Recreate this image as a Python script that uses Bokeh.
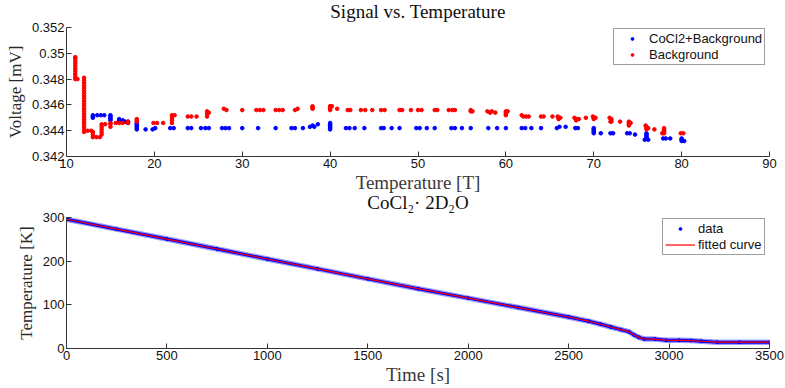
from bokeh.plotting import figure
from bokeh.layouts import column
from bokeh.models import Legend, LegendItem, FixedTicker, Range1d
from bokeh.embed import file_html
from bokeh.resources import INLINE

# ---------------- top panel data: Signal vs. Temperature ----------------
co_pts = [
    (13.0, 0.3452), (13.0, 0.3451), (13.0, 0.3450), (13.5, 0.3452), (13.9, 0.3452), (14.3, 0.3452),
    (15.0, 0.3452), (15.0, 0.3451), (15.0, 0.3450), (15.0, 0.3449), (15.0, 0.3448),
    (16.0, 0.3449), (16.0, 0.3448), (16.0, 0.3447), (16.4, 0.3448),
    (17.0, 0.3447), (17.0, 0.3446), (16.7, 0.3447),
    (18.0, 0.3446), (18.0, 0.3445), (18.0, 0.3444), (18.0, 0.3443), (18.0, 0.3442), (18.0, 0.3441),
    (19.0, 0.3441), (19.8, 0.3441), (20.1, 0.3442),
    (21.8, 0.3442), (22.2, 0.3442), (23.8, 0.3442), (24.2, 0.3442), (25.3, 0.3442), (25.8, 0.3442),
    (26.2, 0.3442), (27.7, 0.3442), (28.1, 0.3442), (28.5, 0.3442), (30.0, 0.3442), (31.8, 0.3442),
    (33.8, 0.3442), (35.6, 0.3442), (36.0, 0.3442), (36.9, 0.3442), (37.7, 0.3443), (38.0, 0.3444),
    (38.2, 0.3443), (38.6, 0.3445),
    (40.0, 0.3441), (40.0, 0.3442), (40.0, 0.3443), (40.0, 0.3444), (40.0, 0.3445), (40.0, 0.3446),
    (41.8, 0.3442), (42.2, 0.3442), (42.8, 0.3442), (43.9, 0.3442), (45.8, 0.3442), (46.1, 0.3442),
    (47.0, 0.3442), (47.9, 0.3442), (49.8, 0.3442), (50.2, 0.3442), (51.0, 0.3442), (51.9, 0.3442),
    (53.8, 0.3442), (54.2, 0.3442), (55.0, 0.3442), (56.0, 0.3442), (58.0, 0.3442), (59.0, 0.3442),
    (60.0, 0.3442), (61.8, 0.3442), (62.2, 0.3442), (62.9, 0.3442), (64.0, 0.3442), (65.8, 0.3442),
    (66.1, 0.3443), (66.8, 0.3443), (67.9, 0.3442), (68.2, 0.3442),
    (70.0, 0.3442), (70.0, 0.3441), (70.0, 0.3440), (70.0, 0.3439), (70.0, 0.3438), (70.8, 0.3438),
    (71.9, 0.3438), (72.2, 0.3438), (73.8, 0.3438), (74.1, 0.3438), (74.7, 0.3437),
    (76.0, 0.3438), (76.0, 0.3437), (76.0, 0.3436), (76.0, 0.3435), (76.0, 0.3434), (75.8, 0.3433),
    (76.2, 0.3433), (77.9, 0.3434), (78.2, 0.3434), (78.7, 0.3434), (80.0, 0.3434), (80.0, 0.3433),
    (80.0, 0.3432), (80.3, 0.3432),
]

bg_pts = [
    (11.0, 0.3480), (11.0, 0.3482), (11.0, 0.3484), (11.0, 0.3486), (11.0, 0.3488), (11.0, 0.3490),
    (11.0, 0.3492), (11.0, 0.3494), (11.0, 0.3496), (11.0, 0.3497), (11.25, 0.3480),
    (12.0, 0.3481), (12.0, 0.3479), (12.0, 0.3477), (12.0, 0.3475), (12.0, 0.3473), (12.0, 0.3471),
    (12.0, 0.3469), (12.0, 0.3467), (12.0, 0.3465), (12.0, 0.3463), (12.0, 0.3461), (12.0, 0.3459),
    (12.0, 0.3457), (12.0, 0.3455), (12.0, 0.3453), (12.0, 0.3451), (12.0, 0.3449), (12.0, 0.3447),
    (12.0, 0.3445), (12.0, 0.3443), (12.0, 0.3441), (12.0, 0.3439),
    (12.4, 0.3440), (12.8, 0.3440), (13.0, 0.3439), (13.0, 0.3437), (13.0, 0.3435), (13.4, 0.3435),
    (13.8, 0.3435), (14.0, 0.3437), (14.0, 0.3439), (14.0, 0.3441), (14.0, 0.3443), (14.0, 0.3445),
    (14.4, 0.3445),
    (15.0, 0.3443), (15.0, 0.3445), (15.0, 0.3446), (15.6, 0.3446), (16.0, 0.3446), (16.4, 0.3446),
    (17.0, 0.3446), (17.0, 0.3447), (18.0, 0.3447), (18.0, 0.3448), (18.0, 0.3449),
    (19.9, 0.3446), (20.3, 0.3446), (21.0, 0.3446), (22.0, 0.3446), (22.0, 0.3448), (22.0, 0.3450),
    (22.0, 0.3452), (22.3, 0.3452),
    (23.8, 0.3451), (24.2, 0.3451), (24.8, 0.3451), (26.0, 0.3451), (26.0, 0.3453), (26.0, 0.3455),
    (26.2, 0.3454),
    (27.9, 0.3457), (28.2, 0.3456), (30.0, 0.3456), (31.6, 0.3456), (32.0, 0.3456), (32.4, 0.3456),
    (33.8, 0.3456), (34.2, 0.3456), (34.6, 0.3456), (36.0, 0.3456), (36.3, 0.3457),
    (38.0, 0.3457), (38.0, 0.3458), (38.0, 0.3459), (40.0, 0.3456), (40.0, 0.3457), (40.0, 0.3458),
    (40.0, 0.3459), (40.2, 0.3459), (40.8, 0.3457),
    (42.0, 0.3456), (42.3, 0.3456), (43.5, 0.3456), (44.0, 0.3456), (44.8, 0.3456), (45.8, 0.3456),
    (46.2, 0.3456), (47.9, 0.3456), (48.2, 0.3456), (49.2, 0.3456), (50.0, 0.3456), (50.4, 0.3456),
    (51.9, 0.3456), (52.2, 0.3456), (53.5, 0.3456), (53.9, 0.3456), (54.2, 0.3456), (56.0, 0.3455),
    (56.0, 0.3456), (56.2, 0.3455),
    (57.9, 0.3455), (58.2, 0.3454), (58.4, 0.3455), (58.8, 0.3454), (60.0, 0.3452), (60.0, 0.3453),
    (60.0, 0.3454), (60.0, 0.3455), (60.2, 0.3455),
    (61.8, 0.3452), (62.0, 0.3451), (62.3, 0.3451), (62.6, 0.3451), (64.0, 0.3451), (64.3, 0.3451),
    (65.3, 0.3451), (65.9, 0.3451), (66.0, 0.3450), (66.0, 0.3449), (66.2, 0.3450),
    (67.8, 0.3450), (68.0, 0.3449), (68.0, 0.3448), (68.3, 0.3449), (69.1, 0.3450), (69.9, 0.3451),
    (70.0, 0.3450), (70.0, 0.3449), (70.2, 0.3450),
    (71.8, 0.3450), (72.0, 0.3449), (72.0, 0.3448), (72.0, 0.3447), (71.9, 0.3447), (73.0, 0.3447),
    (74.0, 0.3447), (74.0, 0.3446), (74.0, 0.3445), (74.0, 0.3444), (74.2, 0.3446),
    (75.9, 0.3444), (76.0, 0.3443), (76.0, 0.3442), (76.0, 0.3441), (76.2, 0.3442), (76.9, 0.3441),
    (78.0, 0.3442), (78.0, 0.3441), (78.0, 0.3440), (78.0, 0.3439), (78.0, 0.3438), (77.8, 0.3438),
    (79.9, 0.3438), (80.2, 0.3438),
]

co_T = [p[0] for p in co_pts]
co_V = [p[1] for p in co_pts]
bg_T = [p[0] for p in bg_pts]
bg_V = [p[1] for p in bg_pts]

top_xticks = [10, 20, 30, 40, 50, 60, 70, 80, 90]
top_yticks = [0.342, 0.344, 0.346, 0.348, 0.35, 0.352]
top_ylabels = ["0.342", "0.344", "0.346", "0.348", "0.35", "0.352"]

# ---------------- bottom panel data: CoCl2 . 2D2O cooling ----------------
time_s = [0, 250, 500, 750, 1000, 1250, 1500, 1750, 2000, 2250, 2500, 2600, 2660, 2710,
          2760, 2800, 2826, 2850, 2875, 2930, 2985, 3050, 3108, 3160, 3240, 3350, 3500]
temp_K = [296, 273.3, 250.6, 227.8, 205, 182.3, 159.5, 137, 115.4, 93.8, 72.2, 62.5, 55.5, 49.3,
          43.3, 38.5, 31, 25.5, 22, 21.5, 19, 18.7, 18.2, 16.6, 14.5, 14.4, 14.4]
fit_K = [296, 273.3, 250.6, 227.8, 205, 182.3, 159.5, 137, 115.4, 93.8, 72.2, 62.5, 55.5, 49.3,
         43.3, 38.5, 31, 25.5, 22, 21.5, 19, 18.7, 18.2, 16.6, 14.5, 14.4, 14.4]

bot_xticks = [0, 500, 1000, 1500, 2000, 2500, 3000, 3500]
bot_yticks = [0, 100, 200, 300]

SERIF = "Liberation Serif"
SANS = "Liberation Sans"
AXIS_C = "#333333"


def style(p):
    p.outline_line_color = None
    p.xgrid.visible = False
    p.ygrid.visible = False
    p.background_fill_color = "white"
    for ax in (p.xaxis[0], p.yaxis[0]):
        ax.axis_line_color = AXIS_C
        ax.major_tick_line_color = AXIS_C
        ax.major_tick_in = 5
        ax.major_tick_out = 0
        ax.minor_tick_line_color = None
        ax.major_label_text_font = SANS
        ax.major_label_text_font_size = "13px"
        ax.major_label_text_color = "#111111"
        ax.axis_label_text_font = SERIF
        ax.axis_label_text_font_style = "normal"
        ax.axis_label_text_color = "#2a2a2a"
        ax.major_label_standoff = 2
    p.xaxis[0].axis_label_text_font_size = "19px"
    p.xaxis[0].axis_label_text_color = "#3a3a3a"
    p.yaxis[0].axis_label_text_font_size = "17px"
    p.xaxis[0].axis_label_standoff = 1
    p.yaxis[0].axis_label_standoff = 4
    p.title.text_font = SERIF
    p.title.text_font_style = "normal"
    p.title.text_font_size = "19px"
    p.title.align = "center"
    p.title.text_color = "#111111"


# ---------------- top figure ----------------
p1 = figure(width=785, height=204, x_range=Range1d(10, 90), y_range=Range1d(0.342, 0.352),
            output_backend="svg", toolbar_location=None, title="Signal vs. Temperature",
            min_border_left=66, min_border_right=16, min_border_top=35, min_border_bottom=40,
            margin=(-8, 0, 0, 0))
style(p1)
p1.border_fill_alpha = 0
p1.title.standoff = 12
p1.xaxis.axis_label = "Temperature [T]"
p1.yaxis.axis_label = "Voltage [mV]"
p1.xaxis.ticker = FixedTicker(ticks=top_xticks)
p1.yaxis.ticker = FixedTicker(ticks=top_yticks)
p1.yaxis.major_label_overrides = {v: s for v, s in zip(top_yticks, top_ylabels)}

r_co = p1.scatter(co_T, co_V, marker="circle", size=3.6, color="#0000ff")
r_bg = p1.scatter(bg_T, bg_V, marker="circle", size=3.6, color="#ff0000")

leg1 = Legend(items=[LegendItem(label="CoCl2+Background", renderers=[r_co]),
                     LegendItem(label="Background", renderers=[r_bg])],
              location=(547, 91))
p1.add_layout(leg1)

# ---------------- bottom figure (pulled up over the empty strip of the top one) ----------------
p2 = figure(width=785, height=204, x_range=Range1d(0, 3500), y_range=Range1d(0, 300),
            output_backend="svg", toolbar_location=None, title="CoCl₂· 2D₂O",
            min_border_left=66, min_border_right=16, min_border_top=33, min_border_bottom=40,
            margin=(-12, 0, 0, 0))
style(p2)
p2.border_fill_alpha = 0
p2.title.standoff = 10
p2.xaxis.axis_label = "Time [s]"
p2.yaxis.axis_label = "Temperature [K]"
p2.xaxis.ticker = FixedTicker(ticks=bot_xticks)
p2.yaxis.ticker = FixedTicker(ticks=bot_yticks)

p2.line(time_s, temp_K, line_width=5.5, color="#9c9cff", line_join="round", line_cap="round")
p2.line(time_s, temp_K, line_width=3, color="#0000ff", line_join="round", line_cap="round")
r_data = p2.scatter(time_s, temp_K, marker="circle", size=3, color="#0000ff")
r_fit = p2.line(time_s, fit_K, line_width=1.2, color="#ff0000", line_join="round")

leg2 = Legend(items=[LegendItem(label="data", renderers=[r_data]),
                     LegendItem(label="fitted curve", renderers=[r_fit])],
              location=(596, 93))
p2.add_layout(leg2)

for lg, gw, ls in ((leg1, 32, 1), (leg2, 30, 3)):
    lg.border_line_color = "#404040"
    lg.border_line_width = 1
    lg.background_fill_color = "white"
    lg.background_fill_alpha = 1
    lg.label_text_font = SANS
    lg.label_text_font_size = "13px"
    lg.label_text_color = "#111111"
    lg.glyph_width = gw
    lg.glyph_height = 7
    lg.label_height = 13
    lg.label_standoff = ls
    lg.spacing = 1
    lg.padding = 2
    lg.margin = 0

layout = column(p1, p2, spacing=0)
open("out.html", "w").write(file_html(layout, INLINE))
